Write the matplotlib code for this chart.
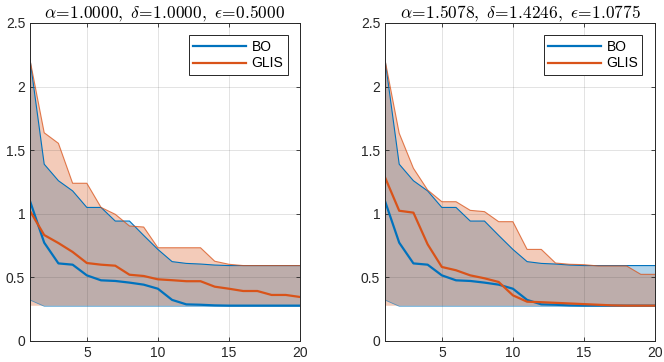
import numpy as np
import matplotlib
matplotlib.use('Agg')
import matplotlib.pyplot as plt

plt.rcParams['font.family'] = ['Liberation Sans', 'DejaVu Sans']
plt.rcParams['mathtext.fontset'] = 'cm'

iters = np.arange(1, 21)

# left panel: alpha=1, delta=1, eps=0.5
bo_mean_1 = [1.10, 0.773, 0.61, 0.60, 0.516, 0.477, 0.472, 0.459, 0.443, 0.411,
             0.323, 0.288, 0.285, 0.280, 0.278, 0.278, 0.278, 0.278, 0.278, 0.278]
bo_hi_1 = [2.215, 1.39, 1.26, 1.18, 1.05, 1.05, 0.943, 0.943, 0.83, 0.72,
           0.624, 0.61, 0.605, 0.597, 0.593, 0.593, 0.593, 0.593, 0.593, 0.593]
bo_lo_1 = [0.322] + [0.273] * 19
glis_mean_1 = [1.022, 0.833, 0.77, 0.70, 0.613, 0.60, 0.592, 0.521, 0.511, 0.485,
               0.478, 0.47, 0.47, 0.427, 0.411, 0.393, 0.393, 0.362, 0.362, 0.346]
glis_hi_1 = [2.21, 1.637, 1.554, 1.24, 1.24, 1.05, 0.996, 0.904, 0.896, 0.733,
             0.733, 0.733, 0.733, 0.627, 0.603, 0.593, 0.593, 0.593, 0.593, 0.593]
glis_lo_1 = [0.277] * 20

# right panel: alpha=1.5078, delta=1.4246, eps=1.0775
bo_mean_2 = bo_mean_1
bo_hi_2 = bo_hi_1
bo_lo_2 = bo_lo_1
glis_mean_2 = [1.287, 1.024, 1.009, 0.76, 0.582, 0.556, 0.516, 0.493, 0.464, 0.359,
               0.309, 0.305, 0.30, 0.295, 0.29, 0.285, 0.28, 0.278, 0.278, 0.278]
glis_hi_2 = [2.21, 1.633, 1.358, 1.187, 1.095, 1.095, 1.027, 1.017, 0.938, 0.938,
             0.72, 0.72, 0.613, 0.603, 0.600, 0.590, 0.590, 0.590, 0.524, 0.524]
glis_lo_2 = [0.277] * 20

titles = [r'$\alpha\!=\!1.0000,\ \delta\!=\!1.0000,\ \epsilon\!=\!0.5000$',
          r'$\alpha\!=\!1.5078,\ \delta\!=\!1.4246,\ \epsilon\!=\!1.0775$']

blue = '#0072BD'
orange = '#D95319'

panels = [
    (bo_mean_1, bo_lo_1, bo_hi_1, glis_mean_1, glis_lo_1, glis_hi_1),
    (bo_mean_2, bo_lo_2, bo_hi_2, glis_mean_2, glis_lo_2, glis_hi_2),
]

fig = plt.figure(figsize=(6.64, 3.62), dpi=100)
lefts = [30 / 664, 385 / 664]

for k, (bm, bl, bh, gm, gl, gh) in enumerate(panels):
    ax = fig.add_axes([lefts[k], 21 / 362, 270 / 664, 318 / 362])
    ax.fill_between(iters, bl, bh, facecolor=blue, alpha=0.3, lw=0)
    ax.plot(iters, bh, color=blue, lw=0.8)
    ax.plot(iters, bl, color=blue, lw=0.6, alpha=0.6)
    ax.fill_between(iters, gl, gh, facecolor=orange, alpha=0.3, lw=0)
    ax.plot(iters, gh, color=orange, lw=0.8, alpha=0.75)
    l1, = ax.plot(iters, bm, color=blue, lw=1.6, label='BO')
    l2, = ax.plot(iters, gm, color=orange, lw=1.6, label='GLIS')

    ax.set_xlim(1, 20)
    ax.set_ylim(0, 2.5)
    ax.set_xticks([5, 10, 15, 20])
    ax.set_yticks([0, 0.5, 1, 1.5, 2, 2.5])
    ax.set_yticklabels(['0', '0.5', '1', '1.5', '2', '2.5'])
    ax.grid(True, color='#262626', alpha=0.15, lw=0.6)
    ax.tick_params(direction='in', top=True, right=True, labelsize=10,
                   colors='#262626', length=3, width=0.6)
    for s in ax.spines.values():
        s.set_color('#262626')
        s.set_linewidth(0.7)
    ax.set_title(titles[k], fontsize=12.5, pad=3)
    leg = ax.legend(handles=[l1, l2], loc='upper right', fontsize=10,
                    fancybox=False, framealpha=1, edgecolor='#262626',
                    handlelength=3.8, borderpad=0.3, labelspacing=0.2,
                    handletextpad=0.4, borderaxespad=0.9)
    leg.get_frame().set_linewidth(0.7)

fig.savefig('out.png', dpi=100)
